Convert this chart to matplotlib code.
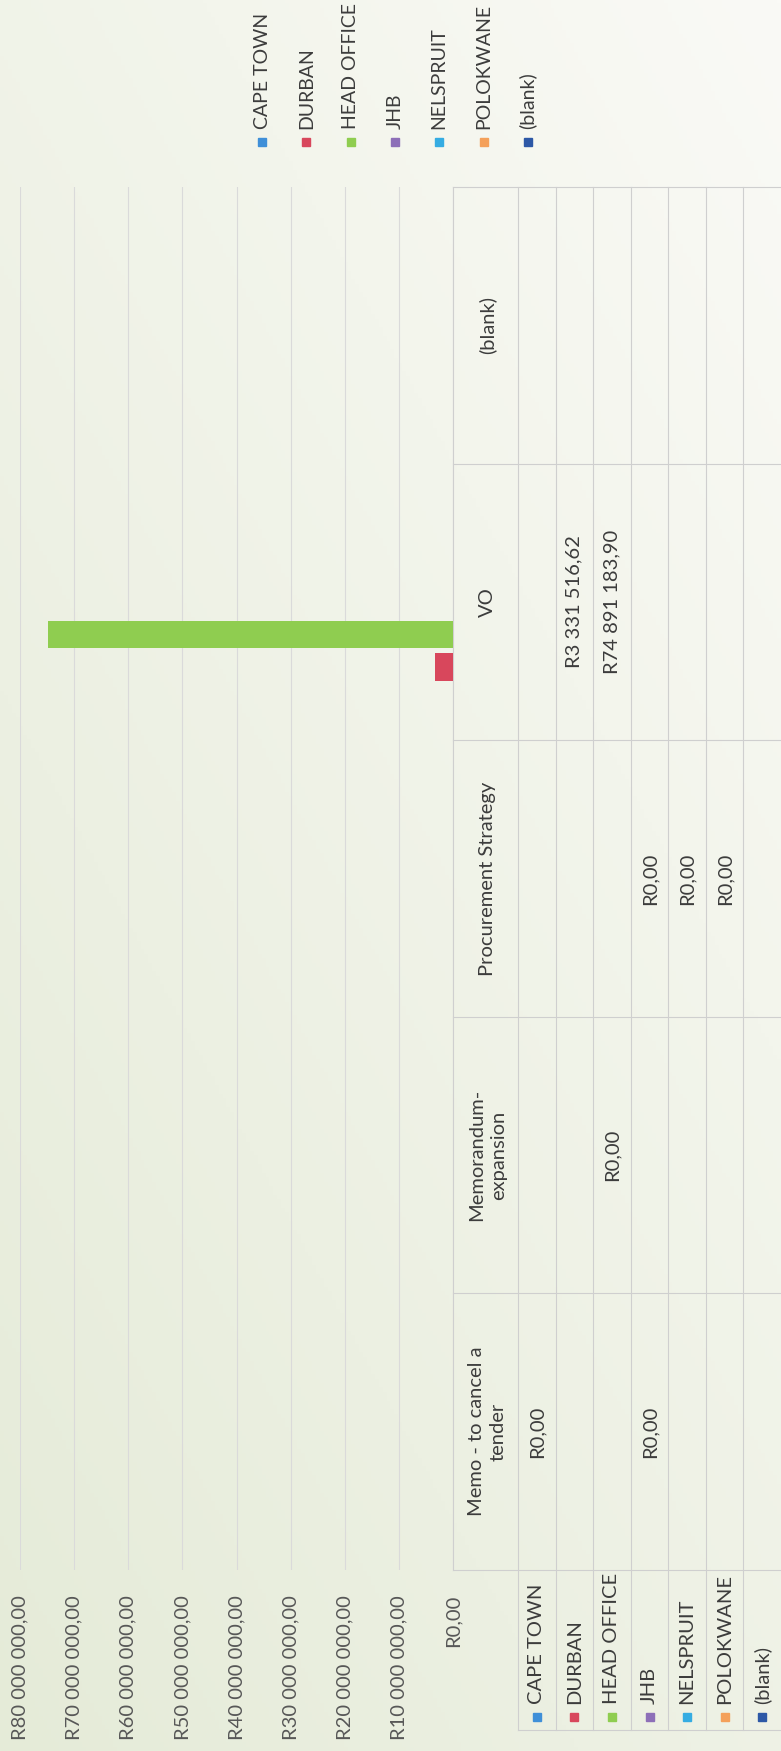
import numpy as np
import matplotlib.pyplot as plt
from matplotlib.patches import Rectangle

# chart data (the scan is an Excel column chart with data table, turned 90 degrees)
categories = ["Memo - to cancel a\ntender", "Memorandum-\nexpansion", "Procurement Strategy", "VO", "(blank)"]
regions = ["CAPE TOWN", "DURBAN", "HEAD OFFICE", "JHB", "NELSPRUIT", "POLOKWANE", "(blank)"]
region_colors = ["#3f8fd8", "#d8475c", "#8fcd50", "#8d6fb8", "#35ace2", "#f4a05a", "#2d58a6"]

# table cells per region, None = empty cell
cape_town = [0.0, None, None, None, None]
durban = [None, None, None, 3331516.62, None]
head_office = [None, 0.0, None, 74891183.90, None]
jhb = [0.0, None, 0.0, None, None]
nelspruit = [None, None, 0.0, None, None]
polokwane = [None, None, 0.0, None, None]
blank = [None, None, None, None, None]
series = [cape_town, durban, head_office, jhb, nelspruit, polokwane, blank]

value_ticks = [0, 10e6, 20e6, 30e6, 40e6, 50e6, 60e6, 70e6, 80e6]


def rand(v):
    s = f"{v:,.2f}"
    return "R" + s.replace(",", " ").replace(".", ",")


W, H = 781, 1751
plot_l, plot_r = 20, 453
plot_t, plot_b = 187, 1570
cat_h = (plot_b - plot_t) / len(categories)
head_w = 65
row_w = (W - plot_r - head_w) / len(regions)
legend_bottom = 1730
fs = 14.5
txt = "#3c3c3c"
line_c = "#cfcfcf"

plt.rcParams['font.family'] = ['Lato', 'DejaVu Sans']
fig = plt.figure(figsize=(W / 100, H / 100), dpi=100)

# paper background, greener towards bottom/left like the scan
bg = fig.add_axes([0, 0, 1, 1], zorder=0)
gx, gy = np.meshgrid(np.linspace(0, 1, 200), np.linspace(0, 1, 400))
t = np.clip(0.45 * (1 - gx) + 0.55 * gy, 0, 1)
c0 = np.array([250, 250, 246]) / 255
c1 = np.array([229, 235, 216]) / 255
bg.imshow(c0 + (c1 - c0) * t[..., None], extent=[0, W, H, 0], aspect='auto')
bg.set_xlim(0, W)
bg.set_ylim(H, 0)
bg.axis('off')

# bars
ax = fig.add_axes([plot_l / W, 1 - plot_b / H, (plot_r - plot_l) / W, (plot_b - plot_t) / H], zorder=1)
ax.patch.set_alpha(0)
slot = 0.118
ypos = np.arange(len(categories))
for i, (vals, col) in enumerate(zip(series, region_colors)):
    widths = [v if v is not None else 0 for v in vals]
    ax.barh(ypos + (i - 3) * slot, widths, height=0.10, color=col, zorder=3)
ax.set_xlim(80e6, 0)
ax.set_ylim(-0.5, len(categories) - 0.5)
ax.set_xticks(value_ticks)
ax.set_xticklabels([rand(v) for v in value_ticks])
ax.tick_params(axis='x', length=0, pad=18, labelrotation=90, labelsize=fs, labelcolor="#575757")
ax.set_yticks([])
for s in ax.spines.values():
    s.set_visible(False)
ax.grid(axis='x', color="#dadada", lw=0.8)
ax.set_axisbelow(True)


def cat_y(c):
    return plot_b - (c + 0.5) * cat_h


def row_x(i):
    return plot_r + head_w + (i + 0.5) * row_w


# data table lines
for k in range(len(categories) + 1):
    bg.plot([plot_r, W], [plot_t + k * cat_h] * 2, color=line_c, lw=0.8)
bg.plot([plot_r, plot_r], [plot_t, plot_b], color=line_c, lw=0.8)
for j in range(len(regions)):
    x = plot_r + head_w + j * row_w
    bg.plot([x, x], [plot_t, legend_bottom], color=line_c, lw=0.8)
bg.plot([plot_r + head_w, W], [legend_bottom] * 2, color=line_c, lw=0.8)

# category headers
for c, name in enumerate(categories):
    bg.text(plot_r + head_w / 2 + 2, cat_y(c), name, rotation=90, ha='center', va='center',
            multialignment='center', fontsize=fs, color=txt, linespacing=1.35)

# cell values
for i, vals in enumerate(series):
    for c, v in enumerate(vals):
        if v is not None:
            bg.text(row_x(i), cat_y(c), rand(v), rotation=90, ha='center', va='center',
                    fontsize=fs, color=txt)

# row headers with legend keys
for i, (name, col) in enumerate(zip(regions, region_colors)):
    x = row_x(i)
    bg.add_patch(Rectangle((x - 4, 1713), 8, 8, color=col))
    bg.text(x, 1704, name, rotation=90, ha='center', va='bottom', fontsize=fs, color=txt)

# legend at the top
for i, (name, col) in enumerate(zip(regions, region_colors)):
    x = 262 + i * 44.3
    bg.add_patch(Rectangle((x - 4, 138), 8, 8, color=col))
    bg.text(x, 129, name, rotation=90, ha='center', va='bottom', fontsize=14, color=txt)

fig.savefig("out.png", dpi=100)
